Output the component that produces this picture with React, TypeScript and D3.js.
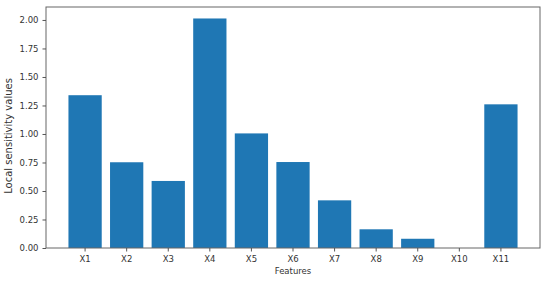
import * as d3 from "d3";
import { useRef, useEffect } from "react";

const width = 550;
const height = 281;
const margin = { left: 46, right: 10, top: 7, bottom: 33 };

const features = ["X1", "X2", "X3", "X4", "X5", "X6", "X7", "X8", "X9", "X10", "X11"];
const sensitivity = [1.34, 0.752, 0.588, 2.013, 1.005, 0.754, 0.418, 0.164, 0.081, 0, 1.26];
const yTicks = [0, 0.25, 0.5, 0.75, 1.0, 1.25, 1.5, 1.75, 2.0];

const font = "DejaVu Sans, sans-serif";
const textColor = "#333";

export default function App() {
  const xAxisRef = useRef<SVGGElement>(null);
  const yAxisRef = useRef<SVGGElement>(null);

  const xScale = d3
    .scaleBand<string>()
    .domain(features)
    .range([margin.left, width - margin.right])
    .paddingInner(0.2)
    .paddingOuter(0.54);
  const yScale = d3
    .scaleLinear()
    .domain([0, (d3.max(sensitivity) as number) * 1.05])
    .range([height - margin.bottom, margin.top]);

  useEffect(() => {
    if (!xAxisRef.current || !yAxisRef.current) return;
    const xAxis = d3.axisBottom(xScale).tickSize(3.5).tickSizeOuter(0).tickPadding(4);
    const yAxis = d3
      .axisLeft(yScale)
      .tickValues(yTicks)
      .tickFormat(d3.format(".2f"))
      .tickSize(3.5)
      .tickPadding(4);
    for (const [ref, axis] of [
      [xAxisRef, xAxis],
      [yAxisRef, yAxis],
    ] as const) {
      const g = d3.select(ref.current as SVGGElement);
      g.call(axis as any);
      g.select(".domain").remove();
      g.selectAll("line").attr("stroke", "#555");
      g.selectAll("text")
        .attr("fill", textColor)
        .style("font-family", font)
        .style("font-size", "8.5px");
    }
  }, []);

  const plotW = width - margin.left - margin.right;
  const plotH = height - margin.top - margin.bottom;

  return (
    <svg
      width={width}
      height={height}
      style={{ position: "absolute", left: 0, top: 0, background: "white" }}
    >
      {features.map((f, i) => (
        <rect
          key={f}
          x={xScale(f)}
          y={yScale(sensitivity[i])}
          width={xScale.bandwidth()}
          height={yScale(0) - yScale(sensitivity[i])}
          fill="#1f77b4"
        />
      ))}
      <rect
        x={margin.left}
        y={margin.top}
        width={plotW}
        height={plotH}
        fill="none"
        stroke="#666"
        strokeWidth={1}
      />
      <g ref={xAxisRef} transform={`translate(0,${height - margin.bottom})`} />
      <g ref={yAxisRef} transform={`translate(${margin.left},0)`} />
      <text
        x={margin.left + plotW / 2}
        y={height - 7}
        textAnchor="middle"
        fontFamily={font}
        fontSize={8.5}
        fill={textColor}
      >
        Features
      </text>
      <text
        transform="translate(12,136) rotate(-90)"
        textAnchor="middle"
        fontFamily={font}
        fontSize={10}
        fill={textColor}
      >
        Local sensitivity values
      </text>
    </svg>
  );
}
